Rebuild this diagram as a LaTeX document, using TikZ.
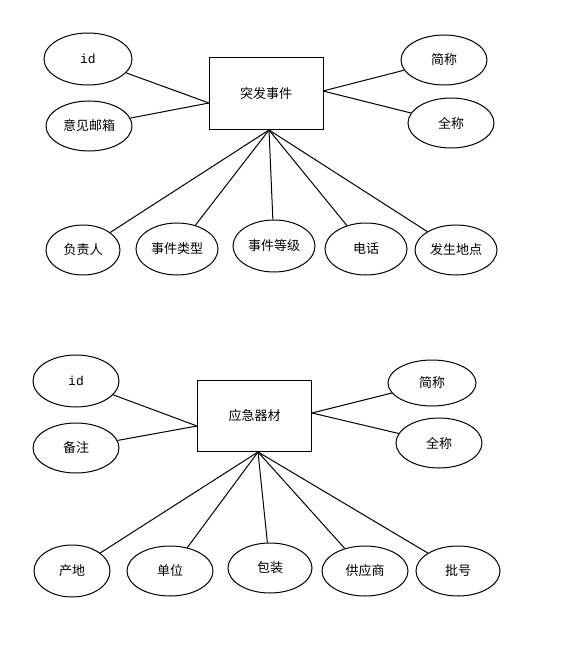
\documentclass[tikz,border=0pt]{standalone}
\usepackage{fontspec}
\newfontfamily\cjk{Noto Sans CJK SC}
\newfontfamily\monof{Liberation Mono}
\usetikzlibrary{shapes.geometric}
\begin{document}
\begin{tikzpicture}[x=0.75pt,y=-0.75pt,line width=0.75pt,
  attr/.style 2 args={draw,ellipse,inner sep=0pt,minimum width=#1*1.5pt,minimum height=#2*1.5pt,font=\cjk\fontsize{9.75pt}{11pt}\selectfont},
  entity/.style={draw,rectangle,inner sep=0pt,minimum width=85.5pt,minimum height=53.25pt,font=\cjk\fontsize{9.75pt}{11pt}\selectfont},
  link/.style={draw}]
\useasboundingbox (0,0) rectangle (575,660);
% ---- top diagram ----
\node[entity] (t) at (266,93.5) {突发事件};
\coordinate (tL) at (209,103);
\coordinate (tR) at (323,91);
\coordinate (tB) at (269,130);
\node[attr={44}{26}] (tid) at (88,59) {\monof id};
\node[attr={43}{25}] (tmail) at (89,126) {意见邮箱};
\node[attr={43}{25}] (tshort) at (444,60) {简称};
\node[attr={43}{25}] (tfull) at (451,123) {全称};
\node[attr={37}{25}] (tfzr) at (83,250) {负责人};
\node[attr={41}{26}] (tlx) at (177,249) {事件类型};
\node[attr={41}{26}] (tdj) at (274,246) {事件等级};
\node[attr={41}{26}] (tdh) at (366,249) {电话};
\node[attr={41}{25}] (tdd) at (456,250) {发生地点};
\draw (tid) -- (tL);
\draw (tmail) -- (tL);
\draw (tshort) -- (tR);
\draw (tfull) -- (tR);
\foreach \n in {tfzr,tlx,tdj,tdh,tdd} \draw (\n) -- (tB);
% ---- bottom diagram ----
\node[entity] (b) at (254.5,415.5) {应急器材};
\coordinate (bL) at (197,426);
\coordinate (bR) at (312,413);
\coordinate (bB) at (258,452);
\node[attr={43}{26}] (bid) at (76,381) {\monof id};
\node[attr={43}{25}] (bnote) at (76,448) {备注};
\node[attr={44}{23}] (bshort) at (432,383) {简称};
\node[attr={43}{25}] (bfull) at (439,443) {全称};
\node[attr={38}{26}] (bcd) at (72,571) {产地};
\node[attr={43}{25}] (bdw) at (170,571) {单位};
\node[attr={42}{25}] (bbz) at (270,568) {包装};
\node[attr={43}{25}] (bgys) at (365,571) {供应商};
\node[attr={42}{25}] (bph) at (458,571) {批号};
\draw (bid) -- (bL);
\draw (bnote) -- (bL);
\draw (bshort) -- (bR);
\draw (bfull) -- (bR);
\foreach \n in {bcd,bdw,bbz,bgys,bph} \draw (\n) -- (bB);
\end{tikzpicture}
\end{document}
